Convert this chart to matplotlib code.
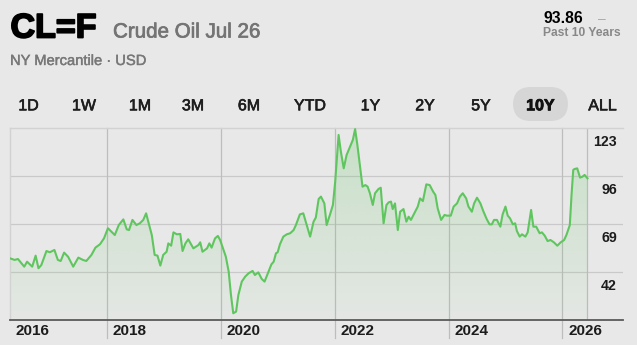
import numpy as np
import matplotlib
matplotlib.use("Agg")
from matplotlib import pyplot as plt
from matplotlib.patches import FancyBboxPatch
import matplotlib.patheffects as pe

plt.rcParams['font.family'] = ['Liberation Sans', 'DejaVu Sans']

# decimal years and prices
years = [
    2016.30, 2016.38, 2016.44, 2016.55, 2016.60, 2016.69, 2016.75, 2016.80, 2016.85, 2016.94,
    2017.00, 2017.08, 2017.14, 2017.19, 2017.25, 2017.32, 2017.41, 2017.50, 2017.58, 2017.64,
    2017.73, 2017.80, 2017.88, 2017.95, 2018.02, 2018.08, 2018.14, 2018.21, 2018.29, 2018.35,
    2018.39, 2018.45, 2018.52, 2018.58, 2018.64, 2018.69, 2018.76, 2018.79, 2018.84, 2018.89,
    2018.94, 2018.99, 2019.05,
    2019.08, 2019.13, 2019.17, 2019.23, 2019.29, 2019.33, 2019.38, 2019.43, 2019.52, 2019.61,
    2019.64, 2019.68, 2019.76, 2019.80, 2019.84, 2019.90, 2019.95, 2019.99, 2020.05, 2020.09,
    2020.14, 2020.18, 2020.22, 2020.27, 2020.31, 2020.37, 2020.43, 2020.49, 2020.56, 2020.60,
    2020.66, 2020.72, 2020.77, 2020.84, 2020.89, 2020.93, 2020.97, 2021.00, 2021.04, 2021.10,
    2021.16, 2021.22, 2021.28, 2021.32, 2021.39, 2021.45, 2021.51, 2021.57, 2021.63, 2021.67,
    2021.72, 2021.76, 2021.82,
    2021.86, 2021.92, 2021.97, 2022.01, 2022.07, 2022.11, 2022.16, 2022.21, 2022.27, 2022.32,
    2022.36, 2022.40, 2022.45, 2022.49, 2022.54, 2022.58, 2022.62, 2022.67, 2022.71, 2022.77,
    2022.81, 2022.86, 2022.91, 2022.95, 2022.99, 2023.02, 2023.06, 2023.11, 2023.15, 2023.21,
    2023.26, 2023.30, 2023.34, 2023.40, 2023.46, 2023.50, 2023.55, 2023.61, 2023.67, 2023.73,
    2023.77, 2023.81, 2023.87, 2023.93, 2023.97, 2024.04, 2024.09, 2024.15, 2024.20, 2024.25,
    2024.31, 2024.35, 2024.41, 2024.45,
    2024.50, 2024.56, 2024.61, 2024.67, 2024.72, 2024.76, 2024.80, 2024.85, 2024.91, 2024.95,
    2025.00, 2025.04, 2025.08, 2025.13, 2025.17, 2025.20, 2025.25, 2025.29, 2025.35, 2025.39,
    2025.45, 2025.49, 2025.54, 2025.60, 2025.64, 2025.69, 2025.74, 2025.79, 2025.85, 2025.91,
    2025.97, 2026.03, 2026.07, 2026.13, 2026.16, 2026.19, 2026.21, 2026.26, 2026.31, 2026.35,
    2026.39, 2026.44,
]
prices = [
    49.7, 48.8, 49.3, 45.0, 47.8, 45.0, 51.2, 44.1, 45.9, 53.8,
    53.1, 54.4, 48.8, 48.2, 52.9, 50.6, 45.0, 50.1, 48.8, 48.2,
    51.6, 55.7, 57.6, 60.9, 66.6, 64.7, 62.8, 68.4, 71.6, 66.0,
    65.6, 71.3, 68.4, 69.4, 71.3, 75.0, 66.6, 62.8, 51.6, 51.2,
    45.6, 51.6, 53.4,
    58.1, 56.8, 64.3, 63.2, 63.4, 53.8, 58.1, 60.4, 55.3, 57.2,
    58.7, 53.4, 55.3, 58.1, 55.7, 60.9, 62.3, 60.0, 54.4, 50.6,
    42.2, 29.1, 18.8, 19.7, 29.1, 36.6, 39.4, 41.3, 42.6, 40.3,
    41.8, 38.1, 36.6, 42.2, 46.3, 47.8, 52.5, 53.1, 57.6, 61.9,
    63.2, 63.8, 65.6, 68.4, 74.4, 75.0, 68.4, 61.9, 70.3, 72.6,
    83.1, 84.4, 80.6,
    68.4, 74.4, 79.7, 92.8, 119.1, 109.7, 100.3, 107.8, 112.5, 116.3,
    122.4, 113.4, 100.3, 90.0, 90.9, 90.0, 86.3, 79.7, 86.3, 88.7,
    89.4, 69.4, 79.7, 81.2, 81.6, 77.4, 80.6, 65.6, 75.9, 77.4,
    70.3, 73.1, 71.3, 75.0, 78.8, 83.4, 81.9, 91.3, 90.9, 87.2,
    85.3, 77.8, 71.3, 74.1, 73.7, 73.7, 78.8, 80.6, 84.4, 86.3,
    83.4, 78.8, 75.9, 80.6,
    83.8, 80.6, 76.3, 71.8, 68.8, 68.8, 71.3, 71.3, 67.5, 74.4,
    78.8, 73.7, 72.2, 68.8, 69.4, 65.1, 61.9, 63.2, 61.9, 64.3,
    76.9, 67.5, 67.5, 63.8, 64.3, 62.4, 59.4, 60.0, 58.7, 56.8,
    58.7, 60.0, 62.8, 68.4, 85.3, 99.4, 99.9, 100.3, 95.1, 95.6,
    96.6, 94.7,
]

y_ticks = [42, 69, 96, 123]
x_years = [2018, 2020, 2022, 2024, 2026]
ranges = ['1D', '1W', '1M', '3M', '6M', 'YTD', '1Y', '2Y', '5Y', '10Y', 'ALL']
selected = '10Y'

W, H = 637, 345
bg = '#e8e8e8'
green = '#5fc65f'
grid = '#c9c9c9'

fig = plt.figure(figsize=(W / 100, H / 100), dpi=100, facecolor=bg)


def fx(px):
    return px / W


def fy(py):
    return 1 - py / H


def thick(w, c):
    return [pe.withStroke(linewidth=w, foreground=c)]


# header
fig.text(fx(10.5), fy(37.5), 'CL=F', fontsize=24.5, fontweight='bold', color='black',
         path_effects=thick(1.3, 'black'))
fig.text(fx(113), fy(37.5), 'Crude Oil Jul 26', fontsize=14.8, color='#747474',
         path_effects=thick(0.5, '#747474'))
fig.text(fx(10), fy(65), 'NY Mercantile \u00b7 USD', fontsize=10.6, color='#787878',
         path_effects=thick(0.3, '#787878'))
fig.text(fx(543), fy(22.7), '93.86', fontsize=11.3, fontweight='bold', color='black')
fig.text(fx(598), fy(22.7), '\u2013', fontsize=10, color='#7fcb7f')
fig.text(fx(543), fy(36), 'Past 10 Years', fontsize=8.7, fontweight='bold', color='#888888')

# range selector
centers = [28.5, 84, 140, 193, 249, 310, 370.5, 425, 481, 540.5, 602.5]
pill = FancyBboxPatch((fx(513), fy(121)), fx(55), 34 / H,
                      boxstyle='round,pad=0,rounding_size=0.028',
                      transform=fig.transFigure, facecolor='#d6d6d6',
                      edgecolor='none', mutation_aspect=W / H)
fig.patches.append(pill)
for lab, cx in zip(ranges, centers):
    if lab == selected:
        fig.text(fx(cx), fy(110.3), lab, fontsize=11.5, ha='center',
                 fontweight='bold', color='#111111',
                 path_effects=thick(0.6, '#111111'))
    else:
        fig.text(fx(cx), fy(110.3), lab, fontsize=11.5, ha='center',
                 color='#1e1e1e', path_effects=thick(0.45, '#1e1e1e'))

# chart
ax = fig.add_axes([fx(10), fy(320), fx(623 - 10), (320 - 128) / H])
ax.set_facecolor(bg)
x0 = 2016.30
x1 = x0 + 613 / 56.95
ymin, ymax = 15, 123
ax.set_xlim(x0, x1)
ax.set_ylim(ymin, ymax)
for s in ['top', 'left']:
    ax.spines[s].set_color('#d2d2d2')
    ax.spines[s].set_linewidth(1)
ax.spines['right'].set_visible(False)
ax.spines['bottom'].set_color('#5a5a5a')
ax.spines['bottom'].set_linewidth(1.3)
ax.set_xticks([])
ax.set_yticks([])

for v in y_ticks[:-1]:
    ax.axhline(v, color=grid, lw=0.9, zorder=0)
for yr in x_years:
    ax.axvline(yr, ymin=-18 / 192, ymax=1, color='#bdbdbd', lw=0.9,
               zorder=0, clip_on=False)
ax.axvline(years[-1], color='#bdbdbd', lw=0.9, zorder=0)

# gradient fill under the line
poly = ax.fill_between(years, prices, ymin, color='none', lw=0)
grad = np.linspace(0.24, 0.03, 256).reshape(-1, 1)
rgba = np.zeros((256, 1, 4))
rgba[..., 0] = 95 / 255
rgba[..., 1] = 198 / 255
rgba[..., 2] = 95 / 255
rgba[..., 3] = grad
im = ax.imshow(rgba, extent=[x0, x1, ymin, ymax], aspect='auto',
               origin='upper', zorder=1, interpolation='bilinear')
im.set_clip_path(poly.get_paths()[0], transform=ax.transData)

ax.plot(years, prices, color=green, lw=1.5, zorder=3, solid_joinstyle='round')

# tick labels
for v in y_ticks:
    ax.annotate(str(v), xy=(1, v), xycoords=('axes fraction', 'data'),
                xytext=(-4.3, -12.6), textcoords='offset points',
                ha='right', va='baseline', fontsize=10.2, fontweight='bold',
                color='#1c1c1c')
for yr in [x0] + x_years:
    lab = '2016' if yr == x0 else str(yr)
    ax.annotate(lab, xy=(yr, 0), xycoords=('data', 'axes fraction'),
                xytext=(4.3, -10.8), textcoords='offset points',
                ha='left', va='baseline', fontsize=11, fontweight='bold',
                color='#1c1c1c', annotation_clip=False)

fig.savefig('out.png', dpi=100, facecolor=bg)
